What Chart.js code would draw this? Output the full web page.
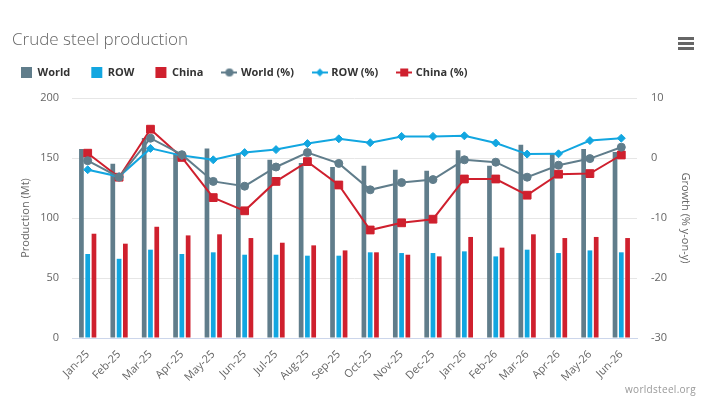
<!DOCTYPE html>
<html>
<head>
<meta charset="utf-8">
<script src="https://cdn.jsdelivr.net/npm/chart.js@4"></script>
<style>
  body { margin: 0; background: #fff; }
  #wrap { position: relative; width: 714px; height: 413px; font-family: 'Open Sans', sans-serif; }
  #title { position: absolute; left: 12px; top: 30px; font-size: 17px; line-height: 1; font-weight: 300; color: #666; white-space: nowrap; }
  #credits { position: absolute; right: 18px; top: 384px; font-size: 10px; line-height: 1; color: #999; letter-spacing: 0.3px; }
  #menu { position: absolute; left: 678px; top: 37px; width: 16px; }
  #menu span { display: block; height: 2.5px; background: #666; margin-bottom: 2.5px; }
</style>
</head>
<body>
<div id="wrap">
  <canvas id="myChart"></canvas>
  <div id="title">Crude steel production</div>
  <div id="menu"><span></span><span></span><span></span></div>
  <div id="credits">worldsteel.org</div>
</div>
<script>
const months = ['Jan-25','Feb-25','Mar-25','Apr-25','May-25','Jun-25','Jul-25','Aug-25','Sep-25',
                'Oct-25','Nov-25','Dec-25','Jan-26','Feb-26','Mar-26','Apr-26','May-26','Jun-26'];
// production, Mt
const world = [157.5, 145.3, 166.7, 154, 158, 153.3, 148.6, 145.8, 142.5, 143.6, 140.3, 139.4, 156.4, 143.6, 161, 154, 157.5, 155];
const row   = [70, 66, 73.6, 70, 71.4, 69.4, 69.4, 68.6, 68.6, 71.4, 70.8, 70.8, 72.2, 68, 73.6, 70.8, 73, 71.4];
const china = [86.9, 78.6, 92.7, 85.5, 86.4, 83.3, 79.4, 77.2, 73, 71.4, 69.4, 68, 84.2, 75.3, 86.4, 83.3, 84.2, 83.3];
// growth, % y-on-y
const worldPct = [-0.45, -3.2, 3.3, 0.55, -3.9, -4.7, -1.5, 0.9, -0.9, -5.3, -4.1, -3.6, -0.3, -0.7, -3.2, -1.2, -0.1, 1.8];
const rowPct   = [-1.95, -3.1, 1.6, 0.4, -0.3, 0.9, 1.4, 2.4, 3.2, 2.55, 3.6, 3.6, 3.7, 2.5, 0.65, 0.7, 2.9, 3.3];
const chinaPct = [0.8, -3.2, 4.8, 0.1, -6.6, -8.8, -3.9, -0.6, -4.5, -12, -10.8, -10.2, -3.5, -3.5, -6.2, -2.7, -2.6, 0.5];

const cWorld = '#607d8b';
const cRow = '#12a6e0';
const cChina = '#cf202e';

// little pictures for the legend
function barIcon(color){
  const c = document.createElement('canvas');
  c.width = 14; c.height = 11;
  const g = c.getContext('2d');
  g.fillStyle = color;
  g.fillRect(2, 0, 11, 11);
  return c;
}
function lineIcon(color, shape){
  const c = document.createElement('canvas');
  c.width = 16; c.height = 10;
  const g = c.getContext('2d');
  g.fillStyle = color;
  g.fillRect(0, 4, 16, 2);
  g.beginPath();
  if (shape === 'circle') g.arc(8, 5, 4, 0, Math.PI*2);
  if (shape === 'diamond') { g.moveTo(8,1); g.lineTo(12,5); g.lineTo(8,9); g.lineTo(4,5); g.closePath(); }
  if (shape === 'square') g.rect(4, 1, 8, 8);
  g.fill();
  return c;
}
const icons = [barIcon(cWorld), barIcon(cRow), barIcon(cChina),
               lineIcon(cWorld,'circle'), lineIcon(cRow,'diamond'), lineIcon(cChina,'square')];

// make the legend box taller so the plot starts lower
const legendSpace = {
  id: 'legendSpace',
  beforeUpdate(chart){
    if (chart.legend && !chart.legend._patched) {
      const fit = chart.legend.fit;
      chart.legend.fit = function(){ fit.call(this); this.height = 51; };
      chart.legend._patched = true;
    }
  }
};

const ctx = document.getElementById('myChart').getContext('2d');

const bar = (label, d, color) => ({
  type: 'bar', label: label, data: d, yAxisID: 'y', backgroundColor: color,
  order: 1, categoryPercentage: 0.6, barPercentage: 0.75
});
const line = (label, d, color, style, r) => ({
  type: 'line', label: label, data: d, yAxisID: 'y1', borderColor: color, backgroundColor: color,
  borderWidth: 2, pointStyle: style, pointRadius: r, pointHoverRadius: r,
  pointBorderColor: color, pointBackgroundColor: color, pointBorderWidth: 1, order: 0
});

const tickFont = { family: 'Open Sans', size: 11 };

const myChart = new Chart(ctx, {
  data: {
    labels: months,
    datasets: [
      bar('World', world, cWorld),
      bar('ROW', row, cRow),
      bar('China', china, cChina),
      line('World (%)', worldPct, cWorld, 'circle', 4),
      line('ROW (%)', rowPct, cRow, 'rectRot', 4),
      line('China (%)', chinaPct, cChina, 'rect', 5.5)
    ]
  },
  plugins: [legendSpace],
  options: {
    responsive: true,
    maintainAspectRatio: false,
    animation: false,
    layout: { padding: { top: 47, left: 0, right: 0, bottom: 0 } },
    plugins: {
      tooltip: { enabled: false },
      legend: {
        position: 'top',
        align: 'start',
        labels: {
          usePointStyle: true,
          pointStyleWidth: 12,
          padding: 20,
          color: '#333',
          font: { family: 'Open Sans', size: 11, weight: 'bold' },
          generateLabels: (chart) => chart.data.datasets.map((ds, i) => ({
            text: ds.label, datasetIndex: i, pointStyle: icons[i],
            fillStyle: 'transparent', strokeStyle: 'transparent', lineWidth: 0,
            fontColor: '#333', hidden: !chart.isDatasetVisible(i)
          })),
          sort: (a, b) => a.datasetIndex - b.datasetIndex
        }
      }
    },
    scales: {
      x: {
        grid: { display: false },
        border: { color: '#ccd6eb' },
        ticks: { autoSkip: false, maxRotation: 45, minRotation: 45, padding: 2, color: '#666', font: tickFont },
        afterFit: (s) => { s.height = 75; }
      },
      y: {
        position: 'left', min: 0, max: 200,
        grid: { color: '#e6e6e6', drawTicks: false },
        border: { display: false },
        ticks: { stepSize: 50, padding: 13, color: '#666', font: tickFont },
        title: { display: true, text: 'Production (Mt)', color: '#666', font: tickFont, padding: { top: 19, bottom: 4 } },
        afterFit: (s) => { s.width = 72; }
      },
      y1: {
        position: 'right', min: -30, max: 10,
        grid: { display: false, drawTicks: false },
        border: { display: false },
        ticks: { stepSize: 10, padding: 14, color: '#666', font: tickFont },
        title: { display: true, text: 'Growth (% y-on-y)', color: '#666', font: tickFont, padding: { top: 22, bottom: 4 } },
        afterFit: (s) => { s.width = 77; }
      }
    }
  }
});
</script>
</body>
</html>
